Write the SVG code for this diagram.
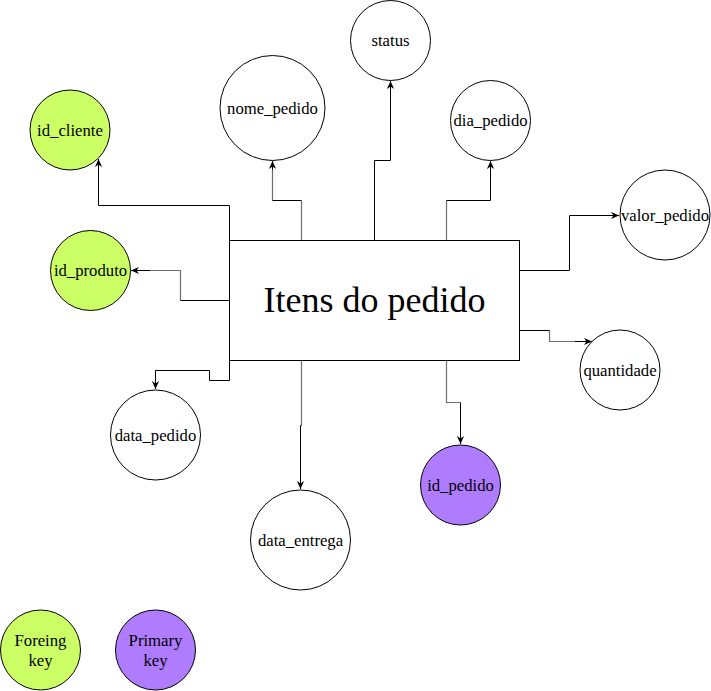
<svg xmlns="http://www.w3.org/2000/svg" width="711" height="691" viewBox="0 0 711 691">
<style>
  .n { stroke: #000; stroke-width: 1; }
  .attr { fill: #fff; }
  .fk { fill: #CCFF66; }
  .pk { fill: #B07CFF; }
  text { font-family: "Liberation Serif", "Times New Roman", serif; fill: #000; text-anchor: middle; }
  .lbl { font-size: 16.7px; }
  .title { font-size: 36px; }
  .e { fill: none; stroke: #000; stroke-width: 1; }
  .g { fill: none; stroke: #6e6e6e; stroke-width: 1.2; }
</style>
<defs>
  <marker id="arr" viewBox="0 0 10 10" refX="10" refY="5" markerWidth="8" markerHeight="8" markerUnits="userSpaceOnUse" orient="auto">
    <path d="M0,0.5 L10,5 L0,9.5 L3,5 Z" fill="#000"/>
  </marker>
</defs>
<rect width="711" height="691" fill="#fff"/>

<g id="connectors">
  <path class="e" d="M229.5,240.5 V205.5 H98.5 V159" marker-end="url(#arr)"/>
  <path class="e" d="M229.5,300.5 H180.5 V270.5 H131" marker-end="url(#arr)"/>
  <path class="g" d="M180.5,300.5 V270.5 H150"/>
  <path class="e" d="M229.5,360.5 V380.5 H209.5 V370.5 H155.5 V389" marker-end="url(#arr)"/>
  <path class="g" d="M301.5,360.5 V425.5"/>
  <path class="e" d="M301.5,425.5 H300.5 V489" marker-end="url(#arr)"/>
  <path class="g" d="M446.5,360.5 V402.5 H460.5"/>
  <path class="e" d="M460.5,402.5 V444" marker-end="url(#arr)"/>
  <path class="e" d="M519.5,330.5 H549.5 V341.5 H592" marker-end="url(#arr)"/>
  <path class="g" d="M549.5,330.5 V341.5 H575"/>
  <path class="e" d="M519.5,270.5 H569.5 V215.5 H619" marker-end="url(#arr)"/>
  <path class="e" d="M446.5,240.5 V200.5 H490.5 V161" marker-end="url(#arr)"/>
  <path class="g" d="M446.5,240.5 V200.5"/>
  <path class="e" d="M374.5,240.5 V160.5 H390.5 V81" marker-end="url(#arr)"/>
  <path class="e" d="M301.5,240.5 V200.5 H272.5 V161" marker-end="url(#arr)"/>
  <path class="g" d="M301.5,240.5 V200.5"/>
  <path class="g" d="M272.5,200.5 V170"/>
</g>

<g id="itens_do_pedido">
  <rect class="n" x="229.5" y="240.5" width="290" height="120" fill="#fff"/>
  <text class="title" x="374.5" y="312">Itens do pedido</text>
</g>

<g id="id_cliente">
  <circle class="n fk" cx="70" cy="130" r="40"/>
  <text class="lbl" x="70" y="135.5">id_cliente</text>
</g>
<g id="nome_pedido">
  <circle class="n attr" cx="272.5" cy="108" r="52.5"/>
  <text class="lbl" x="272.5" y="113.5">nome_pedido</text>
</g>
<g id="status">
  <circle class="n attr" cx="390.5" cy="40.5" r="40"/>
  <text class="lbl" x="390.5" y="45.5">status</text>
</g>
<g id="dia_pedido">
  <circle class="n attr" cx="490.5" cy="120.5" r="40"/>
  <text class="lbl" x="490.5" y="125.5">dia_pedido</text>
</g>
<g id="valor_pedido">
  <circle class="n attr" cx="665" cy="215" r="45"/>
  <text class="lbl" x="665" y="220.5">valor_pedido</text>
</g>
<g id="quantidade">
  <circle class="n attr" cx="620" cy="370" r="40"/>
  <text class="lbl" x="620" y="375.5">quantidade</text>
</g>
<g id="id_produto">
  <circle class="n fk" cx="90.5" cy="270.5" r="40"/>
  <text class="lbl" x="90.5" y="275.5">id_produto</text>
</g>
<g id="data_pedido">
  <circle class="n attr" cx="155.5" cy="435" r="45"/>
  <text class="lbl" x="155.5" y="440.5">data_pedido</text>
</g>
<g id="data_entrega">
  <circle class="n attr" cx="300.5" cy="540" r="50"/>
  <text class="lbl" x="300.5" y="545.5">data_entrega</text>
</g>
<g id="id_pedido">
  <circle class="n pk" cx="460.5" cy="485" r="40"/>
  <text class="lbl" x="460.5" y="490.5">id_pedido</text>
</g>

<g id="legend_foreign_key">
  <circle class="n fk" cx="40.5" cy="650" r="40"/>
  <text class="lbl" x="40.5" y="645.5">Foreing</text>
  <text class="lbl" x="40.5" y="666">key</text>
</g>
<g id="legend_primary_key">
  <circle class="n pk" cx="155.5" cy="650" r="40"/>
  <text class="lbl" x="155.5" y="645.5">Primary</text>
  <text class="lbl" x="155.5" y="666">key</text>
</g>
</svg>
